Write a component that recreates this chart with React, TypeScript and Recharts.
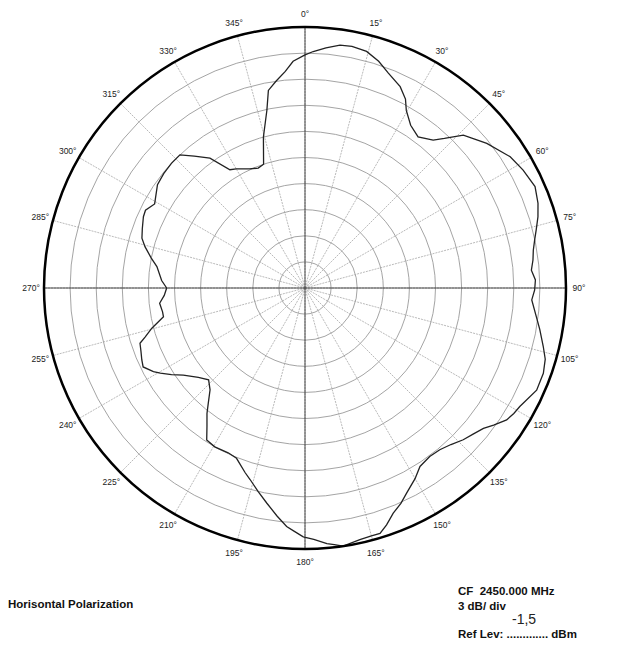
import React from "react";
import { RadarChart, Radar, PolarGrid, PolarAngleAxis, PolarRadiusAxis } from "recharts";

// measured azimuth (deg, clockwise from 0) and level in dB relative to ref (outer ring = 0, 3 dB/div)
const angles = [
  0, 2, 5, 8.2, 11, 14.6, 18, 21.2, 25.3, 28, 29.7, 33, 36.8, 40.9, 43, 46, 51.5, 57.4, 61.6, 66.2,
  70, 73, 75.9, 78, 80.6, 83, 85.5, 88, 90.5, 93, 97.1, 100, 103.8, 106.5, 109.7, 113.8, 118.9, 121,
  123.2, 126, 128.2, 131, 133.8, 137, 140.2, 143.5, 147.2, 150, 153.6, 156, 158.6, 161, 163, 165,
  167.7, 171.6, 173.5, 175.1, 178, 180.4, 182.5, 184.4, 187, 190.1, 193, 196, 198, 201.9, 205, 209.6,
  212.9, 215.3, 218, 220, 223, 226.4, 230, 234.4, 237, 239.5, 241.1, 244, 246.2, 249, 251.5, 253,
  255.3, 258.5, 260.5, 264, 267, 270, 273, 278.2, 281, 284.5, 287, 290, 293.8, 296, 299.2, 302, 305,
  309, 313, 316.8, 320, 323.8, 327.6, 330, 335, 338.7, 341.5, 344.6, 347.9, 349.5, 352, 354.8, 357,
];
const levels = [
  -3.2, -2.8, -2.3, -1.8, -1.7, -1.9, -2.6, -3.5, -4.4, -5.4, -6.5, -7.7, -8.3, -7.5, -6.5, -4.7, -3.3, -2.0, -1.5, -1.1,
  -1.5, -2.0, -2.6, -3.0, -3.4, -3.6, -3.9, -3.5, -3.6, -3.9, -3.2, -2.6, -1.8, -1.2, -0.9, -0.9, -1.8, -2.0,
  -2.3, -3.2, -3.9, -4.4, -4.8, -5.4, -5.8, -5.9, -5.6, -4.7, -3.7, -2.9, -2.2, -1.2, -0.5, -0.5,
  -0.4, 0.0, -0.3, -0.5, -1.1, -1.4, -2.0, -2.5, -3.6, -4.9, -6.0, -7.1, -7.7, -8.9, -9.1, -9.0,
  -9.2, -10.5, -11.7, -12.7, -14.0, -14.7, -14.0, -12.8, -11.7, -10.7, -10.1, -9.3, -9.5, -9.8, -10.0, -10.8,
  -11.8, -13.4, -13.4, -13.2, -13.8, -14.1, -13.5, -12.8, -12.0, -11.0, -10.4, -10.1, -9.7, -9.6, -10.2, -9.8, -9.3,
  -9.1, -9.0, -9.0, -10.2, -11.5, -13.9, -14.2, -14.9, -15.2, -15.0, -12.0, -9.1, -6.9, -6.0, -5.0, -3.9,
];

const angleTicks = [0, 15, 30, 45, 60, 75, 90, 105, 120, 135, 150, 165, 180, 195, 210, 225, 240, 255, 270, 285, 300, 315, 330, 345];
const ringTicks = [-30, -27, -24, -21, -18, -15, -12, -9, -6, -3, 0];
const mainAxes = [0, 90, 180, 270];

const data = angles.map((angle, i) => ({ angle, level: levels[i] }));

const font = "'Liberation Sans', Arial, sans-serif";

function AngleTick({ x, y, payload }: any) {
  return (
    <text x={x} y={y} textAnchor="middle" dominantBaseline="central" fontSize={8.5} fill="#222" fontFamily={font}>
      {payload.value}°
    </text>
  );
}

const textStyle: React.CSSProperties = {
  position: "absolute",
  fontFamily: font,
  fontWeight: "bold",
  fontSize: 11.5,
  lineHeight: "12px",
  color: "#111",
  whiteSpace: "pre",
};

export default function App() {
  return (
    <div style={{ position: "absolute", left: 0, top: 0, width: 619, height: 658, background: "#fff" }}>
      <RadarChart width={619} height={580} data={data} cx={305} cy={288} outerRadius={261}
        margin={{ top: 0, right: 0, bottom: 0, left: 0 }}>
        <PolarGrid gridType="circle" radialLines={false} stroke="#9a9a9a" strokeWidth={0.9} />
        <PolarGrid gridType="circle" polarRadius={[]} stroke="#a8a8a8" strokeWidth={0.8} strokeDasharray="2 1" />
        <PolarGrid gridType="circle" polarRadius={[]} polarAngles={mainAxes.map((a) => 90 - a)} stroke="#333" strokeWidth={0.9} />
        <PolarAngleAxis dataKey="angle" type="number" domain={[0, 360]} ticks={angleTicks}
          axisLineType="circle" axisLine={{ stroke: "#000", strokeWidth: 2.5 }}
          tickLine={false} tickSize={13} tick={<AngleTick />} />
        <PolarRadiusAxis type="number" domain={[-30, 0]} ticks={ringTicks} tick={false} axisLine={false} />
        <Radar dataKey="level" stroke="#222" strokeWidth={1.3} fill="none" fillOpacity={0}
          dot={false} isAnimationActive={false} />
      </RadarChart>

      <div style={{ ...textStyle, left: 8, top: 598 }}>Horisontal Polarization</div>
      <div style={{ ...textStyle, left: 458, top: 585 }}>CF  2450.000 MHz</div>
      <div style={{ ...textStyle, left: 458, top: 600 }}>3 dB/ div</div>
      <div style={{ ...textStyle, left: 458, top: 628 }}>Ref Lev: ............. dBm</div>
      <div style={{ position: "absolute", left: 512, top: 612, fontFamily: font, fontSize: 14, color: "#222", lineHeight: "14px" }}>-1,5</div>
    </div>
  );
}
